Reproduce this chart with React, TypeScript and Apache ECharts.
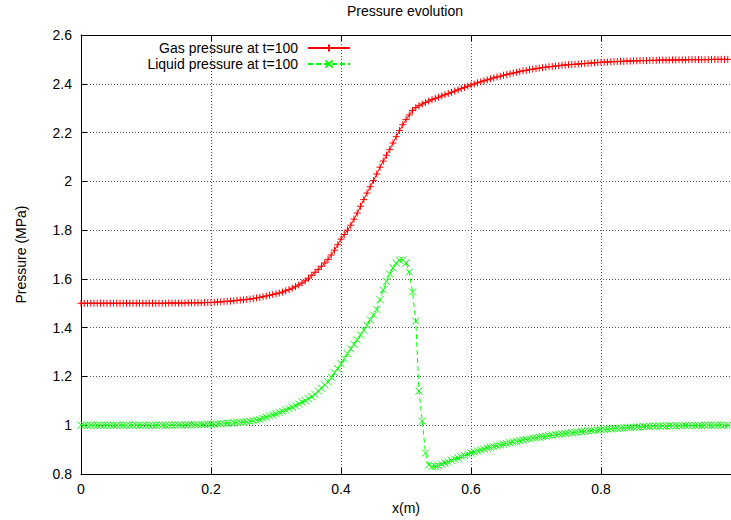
import React, { useEffect, useRef } from "react";
import * as echarts from "echarts";

const FONT = "'Liberation Sans', Arial, Helvetica, sans-serif";

const TITLE = "Pressure evolution";
const X_NAME = "x(m)";
const Y_NAME = "Pressure (MPa)";
const SERIES_NAMES = ["Gas pressure at t=100", "Liquid pressure at t=100"];

// mesh: x = X_START + i * X_STEP
const X_START = 0;
const X_STEP = 0.005;

const GAS_PRESSURE = [
  1.500, 1.500, 1.500, 1.500, 1.500, 1.500, 1.500, 1.500, 1.500, 1.500, 1.500, 1.500, 1.500, 1.500, 1.500, 1.500, 1.500, 1.500, 1.500, 1.500,
  1.500, 1.500, 1.500, 1.500, 1.500, 1.500, 1.500, 1.501, 1.501, 1.501, 1.501, 1.501, 1.501, 1.502, 1.502, 1.502, 1.502, 1.502, 1.503, 1.503,
  1.503, 1.504, 1.505, 1.506, 1.507, 1.508, 1.509, 1.510, 1.512, 1.513, 1.514, 1.516, 1.517, 1.519, 1.522, 1.524, 1.527, 1.530, 1.533, 1.536,
  1.539, 1.542, 1.546, 1.551, 1.556, 1.562, 1.568, 1.575, 1.583, 1.592, 1.603, 1.615, 1.627, 1.639, 1.652, 1.665, 1.680, 1.698, 1.718, 1.740,
  1.763, 1.782, 1.800, 1.820, 1.845, 1.870, 1.898, 1.925, 1.952, 1.978, 2.003, 2.030, 2.058, 2.083, 2.107, 2.130, 2.157, 2.183, 2.208, 2.232,
  2.253, 2.272, 2.290, 2.302, 2.310, 2.317, 2.323, 2.329, 2.335, 2.340, 2.345, 2.350, 2.355, 2.360, 2.365, 2.370, 2.375, 2.380, 2.385, 2.390,
  2.395, 2.399, 2.404, 2.408, 2.412, 2.416, 2.420, 2.424, 2.428, 2.431, 2.435, 2.438, 2.441, 2.444, 2.447, 2.450, 2.453, 2.455, 2.458, 2.460,
  2.462, 2.464, 2.466, 2.468, 2.470, 2.471, 2.473, 2.474, 2.476, 2.477, 2.478, 2.479, 2.480, 2.481, 2.482, 2.483, 2.484, 2.485, 2.486, 2.487,
  2.488, 2.489, 2.489, 2.490, 2.491, 2.491, 2.492, 2.492, 2.493, 2.493, 2.494, 2.494, 2.495, 2.495, 2.495, 2.496, 2.496, 2.496, 2.497, 2.497,
  2.497, 2.497, 2.498, 2.498, 2.498, 2.498, 2.498, 2.499, 2.499, 2.499, 2.499, 2.499, 2.499, 2.499, 2.500, 2.500, 2.500, 2.500, 2.500, 2.500,
];

const LIQUID_PRESSURE = [
  1.000, 1.000, 1.000, 1.000, 1.000, 1.000, 1.000, 1.000, 1.000, 1.000, 1.000, 1.000, 1.000, 1.000, 1.000, 1.000, 1.000, 1.000, 1.000, 1.000,
  1.000, 1.000, 1.000, 1.000, 1.000, 1.000, 1.000, 1.000, 1.001, 1.001, 1.001, 1.001, 1.001, 1.002, 1.002, 1.002, 1.002, 1.003, 1.003, 1.003,
  1.004, 1.004, 1.005, 1.006, 1.007, 1.008, 1.009, 1.010, 1.011, 1.012, 1.013, 1.014, 1.016, 1.018, 1.021, 1.024, 1.028, 1.033, 1.038, 1.042,
  1.047, 1.052, 1.057, 1.062, 1.068, 1.074, 1.080, 1.087, 1.095, 1.101, 1.108, 1.117, 1.126, 1.140, 1.152, 1.165, 1.178, 1.196, 1.215, 1.232,
  1.252, 1.272, 1.293, 1.313, 1.332, 1.350, 1.370, 1.390, 1.410, 1.432, 1.452, 1.475, 1.515, 1.555, 1.590, 1.620, 1.645, 1.665, 1.676, 1.678,
  1.665, 1.628, 1.546, 1.427, 1.140, 1.017, 0.886, 0.837, 0.830, 0.831, 0.835, 0.840, 0.845, 0.850, 0.856, 0.861, 0.866, 0.871, 0.876, 0.881,
  0.886, 0.890, 0.894, 0.898, 0.902, 0.906, 0.909, 0.913, 0.916, 0.919, 0.922, 0.925, 0.928, 0.931, 0.934, 0.937, 0.939, 0.942, 0.944, 0.947,
  0.949, 0.951, 0.953, 0.955, 0.957, 0.959, 0.961, 0.963, 0.965, 0.966, 0.968, 0.969, 0.971, 0.972, 0.974, 0.975, 0.977, 0.978, 0.979, 0.980,
  0.982, 0.983, 0.984, 0.985, 0.986, 0.987, 0.988, 0.989, 0.990, 0.991, 0.992, 0.993, 0.993, 0.994, 0.995, 0.995, 0.996, 0.996, 0.997, 0.997,
  0.997, 0.998, 0.998, 0.998, 0.998, 0.998, 0.999, 0.999, 0.999, 0.999, 0.999, 0.999, 1.000, 1.000, 1.000, 1.000, 1.000, 1.000, 1.000, 1.000,
];

const X_MIN = 0;
const X_MAX = 1;
const X_INTERVAL = 0.2;
const Y_MIN = 0.8;
const Y_MAX = 2.6;
const Y_INTERVAL = 0.2;

const PLUS = "path://M0,5L10,5M5,0L5,10";
const CROSS = "path://M0,0L10,10M0,10L10,0";

const GAS_COLOR = "#ff0000";
const LIQUID_COLOR = "#00ff00";

const toPairs = (vals: number[]) => vals.map((v, i) => [X_START + i * X_STEP, v]);

export default function App() {
  const ref = useRef<HTMLDivElement>(null);
  useEffect(() => {
    if (!ref.current) return;
    const chart = echarts.init(ref.current, undefined, { renderer: "svg" });
    const axisLineStyle = { color: "#000", width: 1 };
    const gridLineStyle = { color: "#555", width: 1, type: [1, 2] as any };
    const labelStyle = { fontSize: 14, color: "#000", fontFamily: FONT };
    chart.setOption({
      animation: false,
      backgroundColor: "#fff",
      textStyle: { fontFamily: FONT },
      title: {
        text: TITLE,
        left: 347,
        top: 4,
        padding: 0,
        textStyle: { fontSize: 14, fontWeight: "normal", color: "#000", fontFamily: FONT },
      },
      legend: {
        orient: "vertical",
        align: "right",
        right: 380,
        top: 41,
        padding: 0,
        itemWidth: 42,
        itemHeight: 9,
        itemGap: 2,
        selectedMode: false,
        data: SERIES_NAMES,
        textStyle: { fontSize: 14, color: "#000", fontFamily: FONT, lineHeight: 14, padding: [0, 5, 0, 0] },
      },
      grid: { left: 81, top: 35, width: 652, height: 439 },
      xAxis: [
        {
          type: "value",
          min: X_MIN,
          max: X_MAX,
          interval: X_INTERVAL,
          position: "bottom",
          name: X_NAME,
          nameLocation: "middle",
          nameGap: 26,
          nameTextStyle: labelStyle,
          axisLine: { show: true, onZero: false, lineStyle: axisLineStyle },
          axisTick: { show: true, inside: true, length: 6, lineStyle: axisLineStyle },
          axisLabel: { ...labelStyle, margin: 8, showMaxLabel: false },
          splitLine: { show: true, lineStyle: gridLineStyle },
        },
        {
          type: "value",
          min: X_MIN,
          max: X_MAX,
          interval: X_INTERVAL,
          position: "top",
          axisLine: { show: true, onZero: false, lineStyle: axisLineStyle },
          axisTick: { show: true, inside: true, length: 6, lineStyle: axisLineStyle },
          axisLabel: { show: false },
          splitLine: { show: false },
        },
      ],
      yAxis: {
        type: "value",
        min: Y_MIN,
        max: Y_MAX,
        interval: Y_INTERVAL,
        name: Y_NAME,
        nameLocation: "middle",
        nameGap: 53,
        nameRotate: 90,
        nameTextStyle: labelStyle,
        axisLine: { show: true, onZero: false, lineStyle: axisLineStyle },
        axisTick: { show: true, inside: true, length: 6, lineStyle: axisLineStyle },
        axisLabel: { ...labelStyle, margin: 9 },
        splitLine: { show: true, lineStyle: gridLineStyle },
      },
      series: [
        {
          type: "line",
          name: SERIES_NAMES[0],
          xAxisIndex: 0,
          data: toPairs(GAS_PRESSURE),
          symbol: PLUS,
          symbolSize: 7,
          showSymbol: true,
          silent: true,
          lineStyle: { color: GAS_COLOR, width: 1, type: "solid" },
          itemStyle: { color: GAS_COLOR, borderColor: GAS_COLOR, borderWidth: 1 },
          emphasis: { disabled: true },
        },
        {
          type: "line",
          name: SERIES_NAMES[1],
          xAxisIndex: 0,
          data: toPairs(LIQUID_PRESSURE),
          symbol: CROSS,
          symbolSize: 7,
          showSymbol: true,
          silent: true,
          lineStyle: { color: LIQUID_COLOR, width: 1, type: [5, 3] },
          itemStyle: { color: LIQUID_COLOR, borderColor: LIQUID_COLOR, borderWidth: 1 },
          emphasis: { disabled: true },
        },
      ],
    });
    return () => chart.dispose();
  }, []);
  return (
    <div
      ref={ref}
      style={{ position: "absolute", left: 0, top: 0, width: 731, height: 520 }}
    />
  );
}
